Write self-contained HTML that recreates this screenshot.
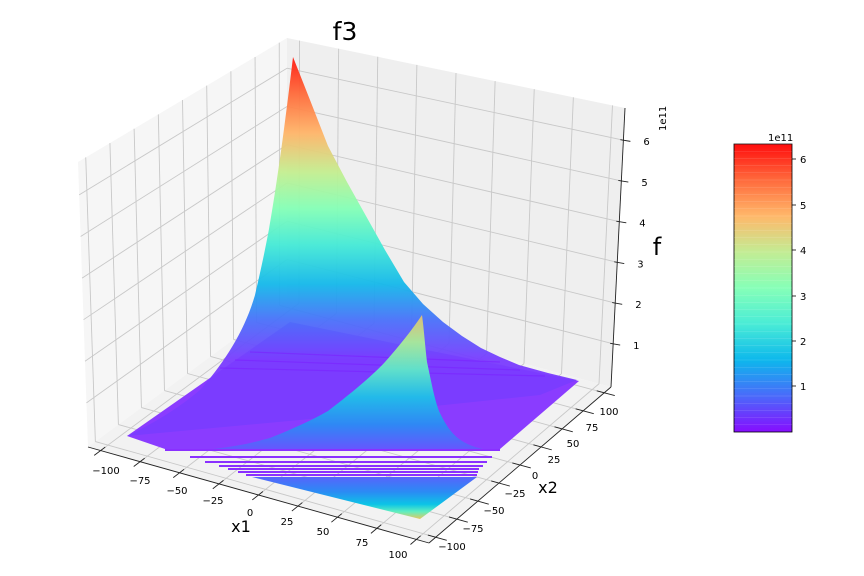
<!DOCTYPE html>
<html><head><meta charset="utf-8"><style>
html,body{margin:0;padding:0;background:#fff;}
svg{display:block;font-family:"DejaVu Sans","Liberation Sans",sans-serif;}
</style></head><body>
<svg id="s" width="864" height="576" viewBox="0 0 864 576" xmlns="http://www.w3.org/2000/svg">
<defs>
<linearGradient id="gb" gradientUnits="userSpaceOnUse" x1="0" y1="57" x2="0" y2="360">
<stop offset="0" stop-color="#ff1a10"/><stop offset="0.12" stop-color="#ff6a3a"/><stop offset="0.25" stop-color="#ffb468"/>
<stop offset="0.38" stop-color="#c4ee90"/><stop offset="0.5" stop-color="#84ffb6"/><stop offset="0.62" stop-color="#44ead6"/>
<stop offset="0.75" stop-color="#14b8ea"/><stop offset="0.87" stop-color="#4a70fa"/><stop offset="1" stop-color="#7a3cff"/>
</linearGradient>
<linearGradient id="gf" gradientUnits="userSpaceOnUse" x1="0" y1="315" x2="0" y2="452">
<stop offset="0" stop-color="#e6c070"/><stop offset="0.2" stop-color="#a8ec98"/><stop offset="0.4" stop-color="#5ee8c8"/>
<stop offset="0.6" stop-color="#1ec0e8"/><stop offset="0.8" stop-color="#2a8cf4"/><stop offset="1" stop-color="#6a52ff"/>
</linearGradient>
<linearGradient id="gu" gradientUnits="userSpaceOnUse" x1="0" y1="470" x2="0" y2="519">
<stop offset="0" stop-color="#6a52ff"/><stop offset="0.45" stop-color="#2a8cf4"/><stop offset="0.7" stop-color="#0cc4e6"/>
<stop offset="0.85" stop-color="#60eec0"/><stop offset="1" stop-color="#e6c860"/>
</linearGradient>
<linearGradient id="gc" x1="0" y1="1" x2="0" y2="0">
<stop offset="0" stop-color="#8000ff"/><stop offset="0.125" stop-color="#4062fa"/><stop offset="0.25" stop-color="#00b4eb"/>
<stop offset="0.375" stop-color="#40ebd4"/><stop offset="0.5" stop-color="#80ffb4"/><stop offset="0.625" stop-color="#c0eb8e"/>
<stop offset="0.75" stop-color="#ffb462"/><stop offset="0.875" stop-color="#ff6232"/><stop offset="1" stop-color="#ff0000"/>
</linearGradient>
</defs>
<g id="axes"></g>
<g id="surf">
<path d="M127,436 L290,322 L579,381 L500,449 L165,449 Z" fill="#8a3cff"/>
<path d="M127,436 C150,425 175,411 200,390 C225,362 245,330 255,295 C262,265 266,245 269,229 C274,200 282,150 293,57 L310,100 L328,146 L347,182 L366,216 L385,250 L404,282 L423,304 L443,322 L462,336 L481,348 L500,357 L519,365 L548,373 L577,380 L540,395 L300,420 Z" fill="url(#gb)" opacity="0.95"/>
<g stroke="#7a22ff" stroke-width="1.2" opacity="0.6">
<line x1="250" y1="352" x2="500" y2="362"/><line x1="235" y1="360" x2="520" y2="370"/><line x1="220" y1="368" x2="545" y2="376"/>
</g>
<path d="M213,449 C240,446 255,442 270,438 C295,428 312,420 328,411 C350,394 370,378 385,362 C400,345 412,330 422,315 C424,330 425,345 427,362 C431,380 434,398 439,411 C447,428 453,435 462,441 C470,446 480,449 489,450 Z" fill="url(#gf)" opacity="0.95"/>
<g stroke="#8a30ff" stroke-width="2">
<line x1="165" y1="450" x2="500" y2="450"/><line x1="190" y1="457" x2="492" y2="457"/><line x1="205" y1="462" x2="487" y2="462"/>
<line x1="219" y1="466" x2="483" y2="466"/><line x1="228" y1="469" x2="479" y2="469"/><line x1="238" y1="472" x2="478" y2="472"/>
<line x1="246" y1="475" x2="477" y2="475"/>
</g>
<path d="M252,477 L477,477 L420,519 Z" fill="url(#gu)"/>
</g>
<g id="ax2"></g>
<text x="345" y="40" font-size="25" text-anchor="middle">f3</text>
<text x="241" y="532" font-size="16" text-anchor="middle">x1</text>
<text x="548" y="493" font-size="16" text-anchor="middle">x2</text>
<text x="657" y="255" font-size="24" text-anchor="middle">f</text>
<text x="0" y="0" font-size="10" transform="translate(666,131) rotate(-90)">1e11</text>
<rect x="734" y="144" width="58" height="288" fill="url(#gc)" opacity="0.95"/>
<rect x="734" y="144" width="58" height="288" fill="none" stroke="#000" stroke-width="0.8"/>
<g font-size="10" id="cb"></g>
<text x="768" y="141" font-size="10">1e11</text>
</svg>
<script>
var NS="http://www.w3.org/2000/svg";
function el(p,t,a,txt){var e=document.createElementNS(NS,t);for(var k in a)e.setAttribute(k,a[k]);if(txt!==undefined)e.textContent=txt;p.appendChild(e);return e;}
var X=108,L=[88,447],F=[429,543],B=[287,300],R=[611,387],TL=[78,162],TB=[287,38],TR=[625,108],TF=[416,232];
function bl(a,b,c,d,u,v){return [a[0]*(1-u)*(1-v)+b[0]*u*(1-v)+c[0]*(1-u)*v+d[0]*u*v,a[1]*(1-u)*(1-v)+b[1]*u*(1-v)+c[1]*(1-u)*v+d[1]*u*v];}
function P(x1,x2,z){var u=(x1+X)/(2*X),v=(x2+X)/(2*X);var f=bl(L,F,B,R,u,v),t=bl(TL,TF,TB,TR,u,v);var s=(z+0.06)/6.85;return [f[0]+(t[0]-f[0])*s,f[1]+(t[1]-f[1])*s];}
function pts(a){return a.map(function(p){return p[0].toFixed(1)+","+p[1].toFixed(1)}).join(" ");}
var g=document.getElementById("axes"),zl=-0.06,zh=6.79;
el(g,"polygon",{points:pts([L,B,TB,TL]),fill:"#f6f6f6"});
el(g,"polygon",{points:pts([B,R,TR,TB]),fill:"#efefef"});
el(g,"polygon",{points:pts([L,F,R,B]),fill:"#f2f2f2"});
function ln(p,q,c,w){el(g,"line",{x1:p[0],y1:p[1],x2:q[0],y2:q[1],stroke:c,"stroke-width":w});}
var gc="#c8c8c8";
for(var t=-100;t<=100;t+=25){
 ln(P(-X,t,zl),P(-X,t,zh),gc,0.9);
 ln(P(t,X,zl),P(t,X,zh),gc,0.9);
 ln(P(t,-X,zl),P(t,X,zl),gc,0.9);
 ln(P(-X,t,zl),P(X,t,zl),gc,0.9);
}
for(var z=1;z<=6;z++){ln(P(-X,-X,z),P(-X,X,z),gc,0.9);ln(P(-X,X,z),P(X,X,z),gc,0.9);}
var g2=document.getElementById("ax2");g=g2;
ln(L,F,"#222",0.9);ln(F,R,"#222",0.9);ln(R,TR,"#222",0.9);
for(var t=-100;t<=100;t+=25){
 ln(P(t,-X+5,zl),P(t,-X-7,zl),"#222",0.9);
 ln(P(X-5,t,zl),P(X+7,t,zl),"#222",0.9);
}
for(var z=1;z<=6;z++){var p=P(X,X,z);ln([p[0]-3,p[1]-0.5],[p[0]+7,p[1]+1.2],"#222",0.9);
 el(g,"text",{x:p[0]+20,y:p[1]+5,"font-size":10},String(z));}
var x1l=[[106,471],[140,481],[177,491],[213,501],[250,513],[287,522],[323,532],[362,543],[398,555]];
var x2l=[[609,412],[592,428],[573,444],[554,460],[535,476],[515,494],[494,511],[473,529],[452,547]];
var vals=["\u2212100","\u221275","\u221250","\u221225","0","25","50","75","100"];
for(var i=0;i<9;i++){el(g,"text",{x:x1l[i][0],y:x1l[i][1]+3,"font-size":10,"text-anchor":"middle"},vals[i]);
 el(g,"text",{x:x2l[i][0],y:x2l[i][1]+3,"font-size":10,"text-anchor":"middle"},vals[8-i]);}
var cb=document.getElementById("cb");
var cy=[386,341,296,250,205,159];
for(var i=0;i<6;i++){el(cb,"line",{x1:792,y1:cy[i],x2:796,y2:cy[i],stroke:"#000","stroke-width":0.8});
 el(cb,"text",{x:800,y:cy[i]+4,"font-size":10},String(i+1));}
for(var k=0;k<40;k++){var y=144+k*7.2;el(cb,"line",{x1:734,y1:y,x2:792,y2:y,stroke:"#fff","stroke-width":0.4,opacity:0.25});}
</script>
</body></html>
